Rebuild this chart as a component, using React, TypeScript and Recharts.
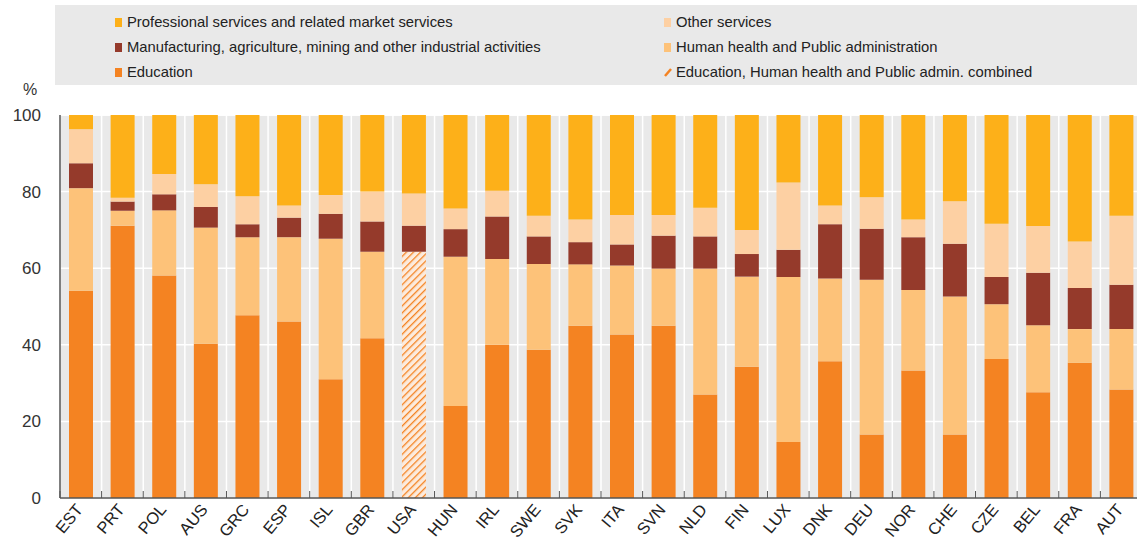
import { Bar, BarChart, CartesianGrid, XAxis, YAxis } from 'recharts';

const countries = ['EST', 'PRT', 'POL', 'AUS', 'GRC', 'ESP', 'ISL', 'GBR', 'USA', 'HUN', 'IRL', 'SWE', 'SVK', 'ITA', 'SVN', 'NLD', 'FIN', 'LUX', 'DNK', 'DEU', 'NOR', 'CHE', 'CZE', 'BEL', 'FRA', 'AUT'];
const education = [54.1, 71.1, 58.1, 40.3, 47.7, 46.1, 31.0, 41.7, 0, 24.0, 40.0, 38.7, 45.0, 42.7, 45.0, 27.0, 34.3, 14.6, 35.7, 16.6, 33.3, 16.6, 36.3, 27.6, 35.3, 28.3];
const combined = [0, 0, 0, 0, 0, 0, 0, 0, 64.3, 0, 0, 0, 0, 0, 0, 0, 0, 0, 0, 0, 0, 0, 0, 0, 0, 0];
const health = [26.8, 3.9, 17.0, 30.3, 20.4, 22.0, 36.7, 22.6, 0, 39.0, 22.4, 22.4, 16.0, 18.0, 14.9, 32.9, 23.5, 43.1, 21.6, 40.4, 21.0, 36.0, 14.3, 17.5, 8.8, 15.8];
const manufacturing = [6.5, 2.4, 4.2, 5.4, 3.4, 5.1, 6.5, 7.9, 6.8, 7.2, 11.1, 7.2, 5.8, 5.5, 8.6, 8.4, 5.9, 7.1, 14.2, 13.3, 13.8, 13.8, 7.1, 13.7, 10.7, 11.6];
const otherServices = [8.9, 1.0, 5.3, 5.9, 7.3, 3.2, 4.9, 7.8, 8.4, 5.4, 6.7, 5.4, 5.9, 7.7, 5.4, 7.5, 6.3, 17.6, 4.9, 8.2, 4.6, 11.1, 13.9, 12.2, 12.2, 18.0];
const professional = [3.7, 21.6, 15.4, 18.1, 21.2, 23.6, 20.9, 20.0, 20.5, 24.4, 19.8, 26.3, 27.3, 26.1, 26.1, 24.2, 30.0, 17.6, 23.6, 21.5, 27.3, 22.5, 28.4, 29.0, 33.0, 26.3];
const yTicks = [0, 20, 40, 60, 80, 100];

const data = countries.map((country, i) => ({
  country,
  education: education[i],
  combined: combined[i],
  health: health[i],
  manufacturing: manufacturing[i],
  otherServices: otherServices[i],
  professional: professional[i],
}));

const COLORS = {
  professional: '#FDB019',
  otherServices: '#FDD0A3',
  manufacturing: '#953A2B',
  health: '#FDC279',
  education: '#F48322',
};

const PLOT_LEFT = 60;
const PLOT_W = 1082;
const BAND = PLOT_W / countries.length;
const FONT = '"Liberation Sans", Arial, sans-serif';

function CountryTick({ x, y, payload }: any) {
  const bx = x - BAND / 2;
  return (
    <g>
      <line x1={bx} x2={bx} y1={y - 7} y2={y} stroke="#555" strokeWidth={1} />
      <text
        transform={`translate(${x + 3},${y + 12}) rotate(-50)`}
        textAnchor="end"
        fontSize={16.5}
        fill="#222"
        fontFamily={FONT}
      >
        {payload.value}
      </text>
    </g>
  );
}

const legendItems = [
  { label: 'Professional services and related market services', color: COLORS.professional, x: 115, y: 22 },
  { label: 'Manufacturing, agriculture, mining and other industrial activities', color: COLORS.manufacturing, x: 115, y: 47 },
  { label: 'Education', color: COLORS.education, x: 115, y: 72 },
  { label: 'Other services', color: COLORS.otherServices, x: 664, y: 22 },
  { label: 'Human health and Public administration', color: COLORS.health, x: 664, y: 47 },
  { label: 'Education, Human health and Public admin. combined', color: 'hatch', x: 664, y: 72 },
];

function LegendBox() {
  return (
    <>
      <div style={{ position: 'absolute', left: 55, top: 5, width: 1082, height: 80, background: '#E9E9E9' }} />
      {legendItems.map((item) => (
        <div
          key={item.label}
          style={{
            position: 'absolute',
            left: item.x,
            top: item.y - 9,
            height: 18,
            display: 'flex',
            alignItems: 'center',
            fontSize: 14.8,
            color: '#222',
            fontFamily: FONT,
            whiteSpace: 'nowrap',
          }}
        >
          {item.color === 'hatch' ? (
            <svg width={8} height={10} style={{ marginRight: 4 }}>
              <line x1={1} y1={9} x2={7} y2={2} stroke={COLORS.education} strokeWidth={2.5} />
            </svg>
          ) : (
            <span style={{ display: 'inline-block', width: 7, height: 9, background: item.color, marginRight: 5 }} />
          )}
          {item.label}
        </div>
      ))}
      <div style={{ position: 'absolute', left: 23, top: 81, fontSize: 16, color: '#333', fontFamily: FONT }}>%</div>
    </>
  );
}

export default function App() {
  return (
    <div style={{ position: 'absolute', left: 0, top: 0, width: 1137, height: 542, overflow: 'hidden', background: '#fff' }}>
      <LegendBox />
      <div style={{ position: 'absolute', left: 0, top: 0 }}>
        <BarChart
          width={PLOT_LEFT + PLOT_W + 8}
          height={542}
          data={data}
          margin={{ top: 115, right: 8, bottom: 14, left: 0 }}
          barSize={24}
        >
          <defs>
            <pattern id="hatchUSA" width={5} height={5} patternUnits="userSpaceOnUse" patternTransform="rotate(45)">
              <rect width={5} height={5} fill="#FCEBDD" />
              <line x1={0} y1={0} x2={0} y2={5} stroke={COLORS.education} strokeWidth={2.6} />
            </pattern>
          </defs>
          <CartesianGrid
            fill="#E9E9E9"
            stroke="#fff"
            strokeWidth={1.5}
            verticalCoordinatesGenerator={({ offset }: any) =>
              countries.map((_, i) => offset.left + (i * offset.width) / countries.length)
            }
          />
          <XAxis
            dataKey="country"
            interval={0}
            height={30}
            tickLine={false}
            tickSize={0}
            tickMargin={0}
            axisLine={{ stroke: '#555', strokeWidth: 1.5 }}
            tick={<CountryTick />}
          />
          <YAxis
            width={PLOT_LEFT}
            domain={[0, 100]}
            ticks={yTicks}
            tickLine={false}
            tickSize={0}
            tickMargin={19}
            axisLine={{ stroke: '#555', strokeWidth: 1.5 }}
            tick={{ fill: '#333', fontSize: 17, fontFamily: FONT }}
          />
          <Bar dataKey="education" stackId="a" fill={COLORS.education} isAnimationActive={false} />
          <Bar dataKey="combined" stackId="a" fill="url(#hatchUSA)" isAnimationActive={false} />
          <Bar dataKey="health" stackId="a" fill={COLORS.health} isAnimationActive={false} />
          <Bar dataKey="manufacturing" stackId="a" fill={COLORS.manufacturing} isAnimationActive={false} />
          <Bar dataKey="otherServices" stackId="a" fill={COLORS.otherServices} isAnimationActive={false} />
          <Bar dataKey="professional" stackId="a" fill={COLORS.professional} isAnimationActive={false} />
        </BarChart>
      </div>
    </div>
  );
}
